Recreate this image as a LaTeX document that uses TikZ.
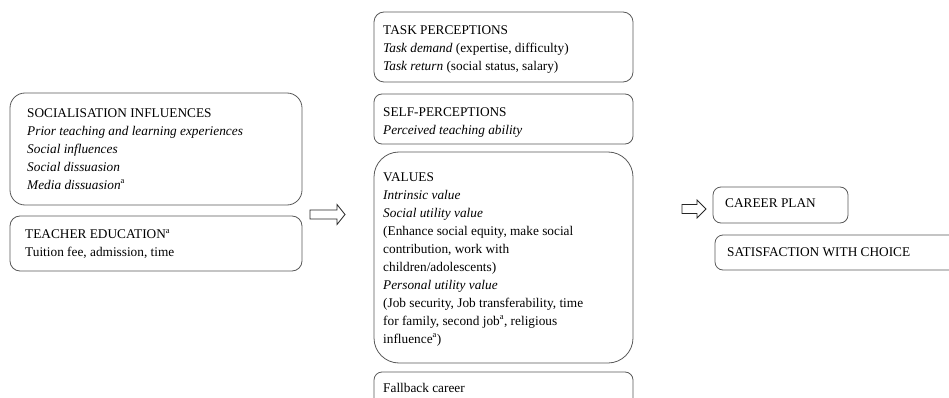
\documentclass[tikz,border=0pt]{standalone}
\usepackage{fontspec}
\setmainfont{Liberation Serif}
\begin{document}
\begin{tikzpicture}[x=1pt,y=-1pt,
  box/.style={draw=black!65,line width=0.8pt,rounded corners=#1},
  box/.default=10pt,
  txt/.style={anchor=north west,inner sep=0pt,align=left,font=\fontsize{13.3}{18}\selectfont},
  blk/.style={draw=black!85,line width=0.8pt,line join=miter}]
\useasboundingbox (0,0) rectangle (949,398);
\newcommand{\sa}{\textsuperscript{\fontsize{8.5}{9}\selectfont a}}
% left boxes
\draw[box=15pt] (10,93) rectangle (302,205);
\node[txt] (soc) at (27,108) {SOCIALISATION INFLUENCES\\\textit{Prior teaching and learning experiences}\\\textit{Social influences}\\\textit{Social dissuasion}\\\textit{Media dissuasion}\sa};
\draw[box=10pt] (10,216) rectangle (302,271);
\node[txt] (teach) at (25,229) {TEACHER EDUCATION\sa\\Tuition fee, admission, time};
% middle boxes
\draw[box=10pt] (374,12) rectangle (633,82);
\node[txt] (task) at (383,25) {TASK PERCEPTIONS\\\textit{Task demand} (expertise, difficulty)\\\textit{Task return} (social status, salary)};
\draw[box=8pt] (374,94) rectangle (633,144);
\node[txt] (self) at (383,107) {SELF-PERCEPTIONS\\\textit{Perceived teaching ability}};
\draw[box=25pt] (374,152) rectangle (633,363);
\node[txt] (val) at (383,172) {VALUES\\\textit{Intrinsic value}\\\textit{Social utility value}\\(Enhance social equity, make social\\contribution, work with\\children/adolescents)\\\textit{Personal utility value}\\(Job security, Job transferability, time\\for family, second job\sa, religious\\influence\sa)};
\draw[box=8pt] (374,372) rectangle (633,415);
\node[txt] (fall) at (383,383) {Fallback career};
% right boxes
\draw[box=8pt] (713,187) rectangle (848,223);
\node[txt] (plan) at (725,198) {CAREER PLAN};
\draw[box=8pt] (715,235) rectangle (965,270);
\node[txt] (sat) at (727,247) {SATISFACTION WITH CHOICE};
% block arrows
\coordinate (a1) at (310,214.5);
\draw[blk] (a1) ++(0,-4.5) -- ++(27,0) -- ++(0,-5.5) -- ++(8,10) -- ++(-8,10) -- ++(0,-5.5) -- ++(-27,0) -- cycle;
\coordinate (a2) at (682,209);
\draw[blk] (a2) ++(0,-4.5) -- ++(15,0) -- ++(0,-4.5) -- ++(9,9) -- ++(-9,9) -- ++(0,-4.5) -- ++(-15,0) -- cycle;
\end{tikzpicture}
\end{document}
